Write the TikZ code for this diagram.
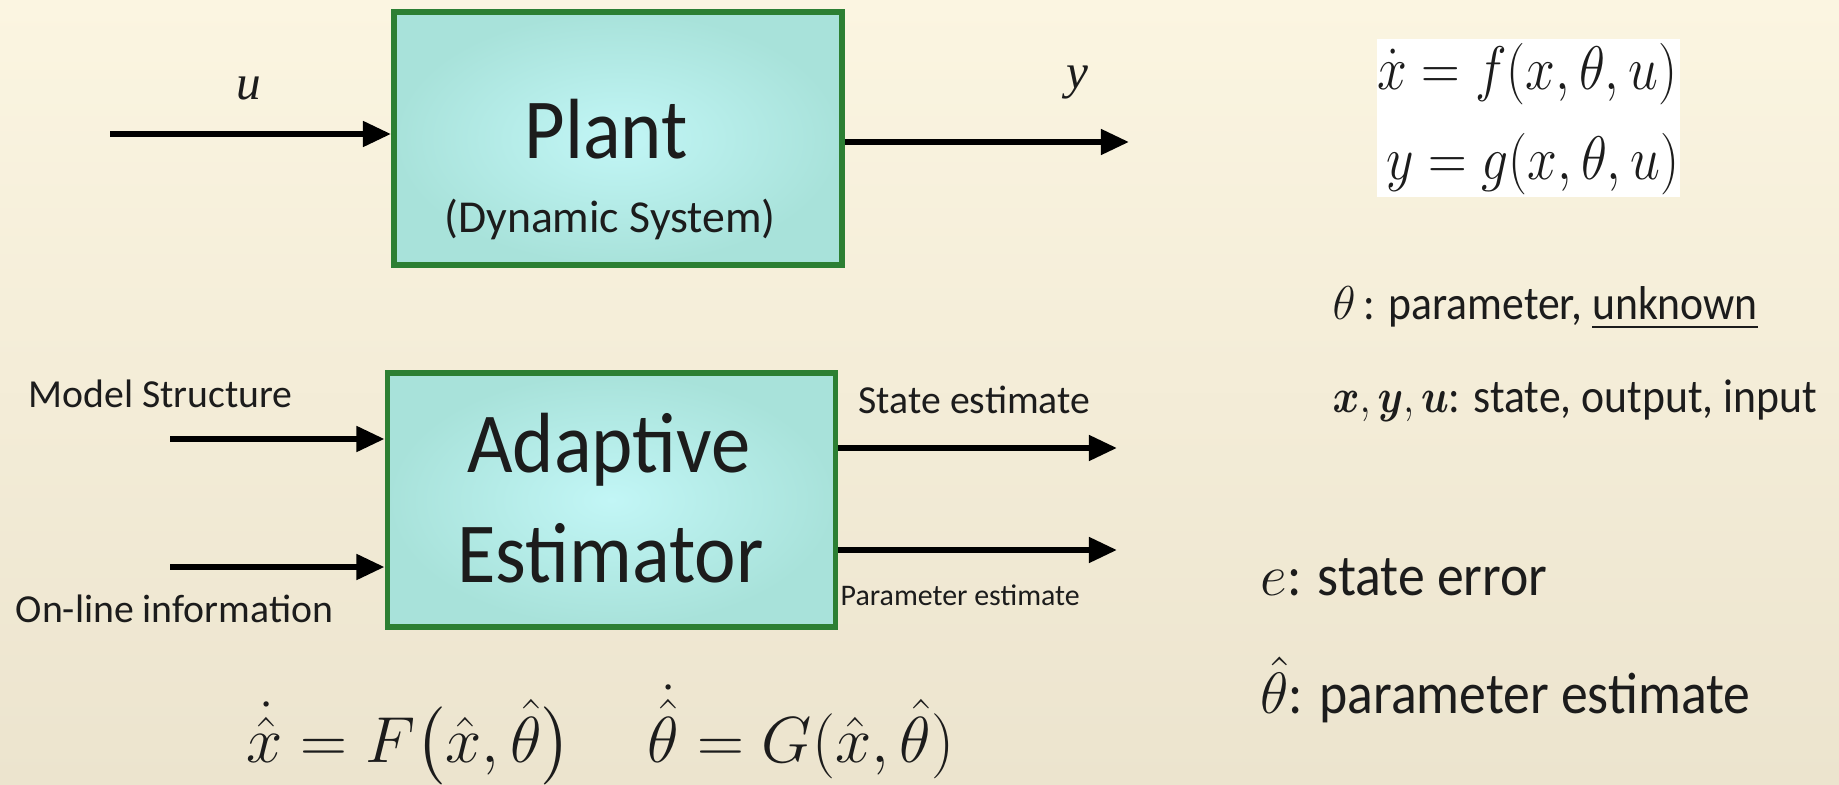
\RequirePackage{fix-cm}
\documentclass[tikz,border=0pt]{standalone}
\usepackage{amsmath,amssymb}
\usepackage[no-math]{fontspec}
\setmainfont{Carlito}
\newfontfamily\tallfont[FakeStretch=0.92]{Carlito}
\newfontfamily\timesfont{Liberation Serif}
\usepackage{tikz}
\usetikzlibrary{arrows.meta,positioning,calc}
\definecolor{bgtop}{HTML}{FBF5E1}
\definecolor{bgbottom}{HTML}{ECE4CE}
\definecolor{boxin}{HTML}{C2F6F6}
\definecolor{boxout}{HTML}{A8E2DA}
\definecolor{boxline}{HTML}{2C7F33}
\definecolor{ink}{HTML}{1C1C1C}

\begin{document}
\begin{tikzpicture}[x=0.01cm,y=-0.01cm,text=ink]
  \tikzset{block/.style={draw=boxline,line width=1.6pt,inner color=boxin,outer color=boxout,minimum width=44.8mm,minimum height=25.3mm},
    sig/.style={draw=black,line width=1.7pt,-{Triangle[length=8pt,width=7pt]}},
    big/.style={inner sep=0pt,anchor=base,font=\tallfont\fontsize{24.3}{29}\selectfont},
    lbl/.style={inner sep=0pt,anchor=base west,font=\fontsize{11.3}{13}\selectfont},
    leg/.style={inner sep=0pt,anchor=base west,font=\tallfont\fontsize{13.5}{16}\selectfont},
    legbig/.style={inner sep=0pt,anchor=base west,font=\tallfont\fontsize{16.6}{20}\selectfont},
    eqn/.style={inner sep=0pt,anchor=base,font=\fontsize{18.5}{22}\selectfont}}
  \fill[top color=bgtop,bottom color=bgbottom] (0,0) rectangle (1839,785);

  \node[block] (plant) at (618,138.5) {};
  \node[big] (plantname) at (606,159) {Plant};
  \node[inner sep=0pt,anchor=base,font=\fontsize{13}{15}\selectfont] (plantsub) at (610,233) {(Dynamic System)};
  \coordinate (uin) at (110,134);
  \coordinate (yout) at (1129,142);
  \draw[sig] (uin) -- (uin -| plant.west);
  \draw[sig] (yout -| plant.east) -- (yout);
  \node[inner sep=0pt,anchor=base,font=\timesfont\itshape\fontsize{14}{16}\selectfont] (ulbl) at (249,100) {u};
  \node[inner sep=0pt,anchor=base,font=\timesfont\itshape\fontsize{14}{16}\selectfont] (ylbl) at (1077,89) {y};

  \node[block,minimum height=25.4mm] (est) at (611.5,500) {};
  \node[big] (estname1) at (609,472) {Adaptive};
  \node[big] (estname2) at (610.5,582) {Estimator};
  \coordinate (msin) at (170,439);
  \coordinate (olin) at (170,567);
  \coordinate (seout) at (1117,448);
  \coordinate (peout) at (1117,550);
  \draw[sig] (msin) -- (msin -| est.west);
  \draw[sig] (olin) -- (olin -| est.west);
  \draw[sig] (seout -| est.east) -- (seout);
  \draw[sig] (peout -| est.east) -- (peout);
  \node[lbl] (mslbl) at (28,407) {Model Structure};
  \node[lbl] (ollbl) at (15,622) {On-line information};
  \node[lbl] (selbl) at (858,413) {State estimate};
  \node[lbl,font=\fontsize{8.5}{10}\selectfont] (pelbl) at (840,605) {Parameter estimate};

  \fill[white] (1377,39) rectangle (1680,197);
  \node[inner sep=0pt,anchor=base east,font=\fontsize{17.5}{20}\selectfont] (eqf) at (1678,90) {\scalebox{0.87}[1]{$\dot{x}=f(x,\theta,u)$}};
  \node[inner sep=0pt,anchor=base east,font=\fontsize{17.5}{20}\selectfont] (eqg) at (1680,180) {\scalebox{0.87}[1]{$y=g(x,\theta,u)$}};

  \node[leg] (thetaleg) at (1332,320) {$\theta$\,: parameter, \underline{unknown}};
  \node[leg] (varleg) at (1332,412) {\scalebox{0.86}[1]{$\boldsymbol{x},\boldsymbol{y},\boldsymbol{u}$}: state, output, input};
  \node[legbig] (errleg) at (1260,595) {$e$: state error};
  \node[legbig] (hatleg) at (1260,713) {$\hat{\theta}$: parameter estimate};

  \node[eqn] (xhateq) at (409,762) {$\dot{\hat{x}}=F\bigl(\hat{x},\hat{\theta}\bigr)$};
  \node[eqn] (thetahateq) at (801,762) {$\dot{\hat{\theta}}=G(\hat{x},\hat{\theta})$};
\end{tikzpicture}
\end{document}
